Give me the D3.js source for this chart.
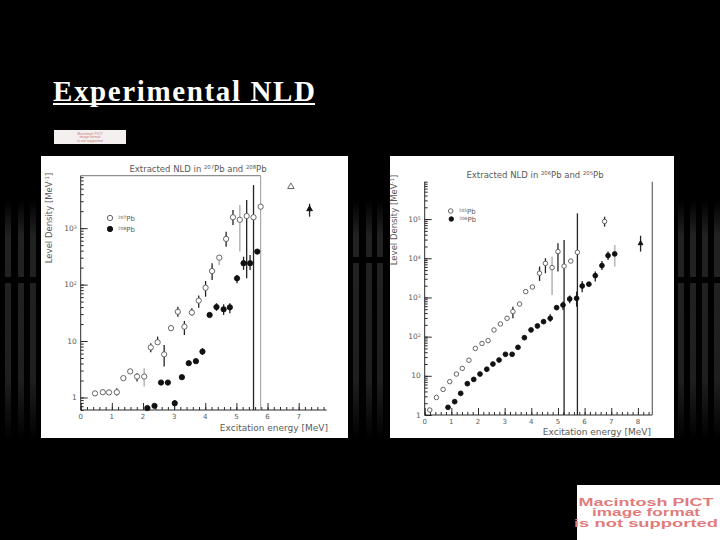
<!DOCTYPE html>
<html>
<head>
<meta charset="utf-8">
<script src="https://cdn.jsdelivr.net/npm/d3@7"></script>
<style>
  body { margin: 0; background: #000; }
  svg { display: block; }
</style>
</head>
<body>
<svg id="slide" width="720" height="540"></svg>
<script>
// ---- left panel: 207Pb (open) and 208Pb (filled) ----
const e207   = [0.46,0.71,0.91,1.16,1.37,1.59,1.81,2.04,2.25,2.47,2.68,2.90,3.12,3.33,3.57,3.79,4.01,4.22,4.45,4.67,4.89,5.11,5.33,5.55,5.78];
const nld207 = [1.18,1.24,1.23,1.24,2.2,2.9,2.35,2.35,7.7,9.5,5.8,16.9,33,18,32,52,88,174,300,645,1560,1410,1640,1560,2400];
const lo207  = [null,null,null,1.085,null,null,1.92,1.57,6.35,8.55,3.54,null,27,12.8,28.3,39,61,121,222,470,1143,384,129,0.6,null];
const hi207  = [null,null,null,1.46,null,null,2.70,3.3,9.15,12.0,8.55,null,40.6,22.7,38,63.8,116,238,335,862,2094,2570,3150,5800,null];
const grey207 = [2.04,4.45,5.11];

const e208   = [2.14,2.37,2.58,2.80,3.02,3.25,3.47,3.70,3.91,4.14,4.36,4.59,4.79,5.02,5.23,5.44,5.67];
const nld208 = [0.65,0.71,1.84,1.84,0.79,2.29,4.05,4.4,6.5,29,40,36.5,39.6,129,239,239,384];
const lo208  = [null,null,null,null,0.70,null,null,4.1,5.69,null,34.2,29,31,106,182,182,null];
const hi208  = [null,null,null,null,0.90,null,null,4.8,7.5,null,46.8,44.8,46.8,148,312,335,null];

const eTriOpenL = [6.75],  nldTriOpenL = [5430];
const eTriFillL = [7.35],  nldTriFillL = [2180], loTriFillL = [1600], hiTriFillL = [2700];
const markerLineL = 5.78;

const xTicksL = [0,1,2,3,4,5,6,7];
const yTicksL = [1,10,100,1000];

// ---- right panel: 205Pb (open) and 206Pb (filled) ----
const e205   = [0.19,0.44,0.69,0.94,1.19,1.41,1.66,1.90,2.15,2.38,2.60,2.84,3.09,3.31,3.56,3.79,4.04,4.31,4.53,4.78,5.00,5.23,5.48,5.73,6.75];
const nld205 = [1.34,2.8,4.5,7.1,11.1,15.5,25,50,67,79,148,211,294,435,680,1410,1850,4150,7400,5760,14800,6300,8500,14200,87000];
const lo205  = [null,null,null,null,null,null,null,null,null,null,null,null,null,295,null,null,null,2640,4160,1160,4580,1,null,1,64000];
const hi205  = [null,null,null,null,null,null,null,null,null,null,null,null,null,583,null,null,null,6140,10000,10900,24000,29400,null,140000,115000];
const grey205 = [4.78];

const e206   = [0.875,1.125,1.35,1.6,1.84,2.075,2.33,2.56,2.79,3.03,3.28,3.5,3.74,3.99,4.23,4.46,4.71,4.95,5.19,5.44,5.7,5.91,6.16,6.4,6.65,6.88,7.13];
const nld206 = [1.57,2.19,3.57,6.3,8.1,11.1,14.7,20,25.3,35.4,35.4,53.4,94,148,187,241,294,550,640,913,950,1960,2180,3600,6500,11700,12900];
const lo206  = [null,null,null,null,null,null,null,null,null,null,null,null,null,null,null,null,241,null,480,708,583,1360,null,2540,5050,9000,6140];
const hi206  = [null,null,null,null,null,null,null,null,null,null,null,null,null,null,null,null,371,null,787,1120,1410,2640,null,4580,8490,14800,21800];
const grey206 = [7.13];

const eTriFillR = [8.1], nldTriFillR = [24000], loTriFillR = [14800], hiTriFillR = [37600];

const xTicksR = [0,1,2,3,4,5,6,7,8];
const yTicksR = [1,10,100,1000,10000,100000];

const svg = d3.select("#slide");

// ---- background stripes ----
const grad = svg.append("defs").append("linearGradient")
    .attr("id", "stripe").attr("x1", 0).attr("x2", 0).attr("y1", 0).attr("y2", 1);
grad.append("stop").attr("offset", "0%").attr("stop-color", "#222").attr("stop-opacity", 0);
grad.append("stop").attr("offset", "15%").attr("stop-color", "#222").attr("stop-opacity", 1);
grad.append("stop").attr("offset", "75%").attr("stop-color", "#222").attr("stop-opacity", 0.9);
grad.append("stop").attr("offset", "100%").attr("stop-color", "#222").attr("stop-opacity", 0);

function stripes(xs, gapY) {
    const g = svg.append("g");
    xs.forEach(x => g.append("rect").attr("x", x).attr("y", 200).attr("width", 6).attr("height", 240).attr("fill", "url(#stripe)"));
    g.append("rect").attr("x", xs[0] - 2).attr("y", gapY).attr("width", xs[xs.length - 1] - xs[0] + 10).attr("height", 6).attr("fill", "#000");
}
stripes([5, 18, 30], 277);
stripes([353, 366, 377], 257);
stripes([678, 690, 702, 714], 277);

// ---- slide title ----
svg.append("text")
    .attr("x", 53).attr("y", 101)
    .attr("font-family", "'Liberation Serif', serif")
    .attr("font-weight", "bold")
    .attr("font-size", 29)
    .attr("fill", "#fff")
    .attr("textLength", 262)
    .text("Experimental NLD");
svg.append("rect").attr("x", 53).attr("y", 103).attr("width", 262).attr("height", 2).attr("fill", "#fff");

// small unsupported-image placeholder
svg.append("rect").attr("x", 54).attr("y", 130).attr("width", 72).attr("height", 14).attr("fill", "#f4f0f0");
["Macintosh PICT", "image format", "is not supported"].forEach((t, i) => {
    svg.append("text").attr("x", 90).attr("y", 134.5 + i * 3.8)
        .attr("text-anchor", "middle").attr("font-size", 3.6)
        .attr("font-family", "'Liberation Sans', sans-serif")
        .attr("fill", "#c87878").text(t);
});

// big placeholder bottom right
svg.append("rect").attr("x", 577).attr("y", 485).attr("width", 143).attr("height", 55).attr("fill", "#fff");
[["Macintosh PICT", 135], ["image format", 108], ["is not supported", 144]].forEach(([t, w], i) => {
    svg.append("text").attr("x", 646).attr("y", 505.5 + i * 10.5)
        .attr("text-anchor", "middle").attr("font-size", 10.5).attr("font-weight", "bold")
        .attr("font-family", "'Liberation Sans', Arial, sans-serif")
        .attr("textLength", w).attr("lengthAdjust", "spacingAndGlyphs")
        .attr("fill", "#e07c7c").text(t);
});

// ---- helpers ----
function richText(sel, str) {
    // "^{...}" marks a superscript part
    const parts = str.split(/(\^\{[^}]*\})/).filter(s => s.length);
    parts.forEach(p => {
        if (p.startsWith("^{")) {
            sel.append("tspan").attr("baseline-shift", "super").attr("font-size", "0.62em").text(p.slice(2, -1));
        } else {
            sel.append("tspan").text(p);
        }
    });
}

function tickLabel(v) {
    if (v === 1) return "1";
    if (v === 10) return "10";
    return "10^{" + Math.round(Math.log10(v)) + "}";
}

function minorLog(domain) {
    const out = [];
    for (let k = Math.floor(Math.log10(domain[0])); k <= Math.ceil(Math.log10(domain[1])); k++) {
        for (let m = 1; m < 10; m++) {
            const v = m * Math.pow(10, k);
            if (v >= domain[0] && v <= domain[1]) out.push(v);
        }
    }
    return out;
}

const ink = "#2a2a2a", txt = "#5a5a5a";

function drawPanel(cfg) {
    const { x, y } = cfg;
    const g = svg.append("g");
    g.append("rect").attr("x", cfg.box[0]).attr("y", cfg.box[1])
        .attr("width", cfg.box[2]).attr("height", cfg.box[3]).attr("fill", "#fff");

    const [x0, x1] = x.range();
    const [y0, y1] = y.range();

    // y axis with minor ticks (inside)
    g.append("g").attr("transform", `translate(${x0},0)`)
        .call(d3.axisRight(y).tickValues(minorLog(y.domain())).tickSize(3).tickFormat(""))
        .call(a => a.select(".domain").remove())
        .selectAll("line").attr("stroke", ink);
    const yMaj = g.append("g").attr("transform", `translate(${x0},0)`)
        .call(d3.axisRight(y).tickValues(cfg.yTicks).tickSize(7).tickFormat(""));
    yMaj.select(".domain").remove();
    yMaj.selectAll("line").attr("stroke", ink);
    cfg.yTicks.forEach(v => {
        const t = g.append("text").attr("x", x0 - 4).attr("y", y(v) + 2.5)
            .attr("text-anchor", "end").attr("font-size", 7.5)
            .attr("font-family", "'DejaVu Sans', sans-serif").attr("fill", txt);
        richText(t, tickLabel(v));
    });

    // x axis, ticks inside (upwards)
    const minorX = d3.range(0, x.domain()[1] + 1e-6, 0.2);
    g.append("g").attr("transform", `translate(0,${y0})`)
        .call(d3.axisTop(x).tickValues(minorX).tickSize(3).tickFormat(""))
        .call(a => a.select(".domain").remove())
        .selectAll("line").attr("stroke", ink);
    const xAx = g.append("g").attr("transform", `translate(0,${y0})`)
        .call(d3.axisTop(x).tickValues(cfg.xTicks).tickSize(7).tickFormat(""));
    xAx.select(".domain").remove();
    xAx.selectAll("line").attr("stroke", ink);
    g.selectAll(".xlab").data(cfg.xTicks).enter().append("text")
        .attr("x", d => x(d)).attr("y", y0 + 9)
        .attr("text-anchor", "middle").attr("font-size", 7)
        .attr("font-family", "'DejaVu Sans', sans-serif").attr("fill", txt)
        .text(d => d);

    // frame lines
    g.append("line").attr("x1", x0).attr("x2", x0).attr("y1", y0).attr("y2", y1).attr("stroke", ink);
    g.append("line").attr("x1", x0).attr("x2", x1).attr("y1", y0).attr("y2", y0).attr("stroke", ink);
    cfg.extraLines(g);

    // error bars
    const bars = [];
    cfg.series.forEach(s => s.e.forEach((e, i) => {
        if (s.lo && s.lo[i] != null) bars.push({ e, lo: s.lo[i], hi: s.hi[i], grey: (s.grey || []).includes(e) });
    }));
    g.selectAll(".bar").data(bars).enter().append("line")
        .attr("x1", d => x(d.e)).attr("x2", d => x(d.e))
        .attr("y1", d => y(Math.max(d.lo, y.domain()[0]))).attr("y2", d => y(Math.min(d.hi, y.domain()[1])))
        .attr("stroke", d => d.grey ? "#b8b8b8" : "#222")
        .attr("stroke-width", d => d.grey ? 1.6 : 1.3);

    // markers
    cfg.series.forEach(s => {
        const sym = d3.symbol().type(s.tri ? d3.symbolTriangle : d3.symbolCircle).size(s.size);
        g.selectAll(null).data(s.e.map((e, i) => ({ e, v: s.v[i] }))).enter().append("path")
            .attr("transform", d => `translate(${x(d.e)},${y(d.v)})`)
            .attr("d", sym)
            .attr("fill", s.open ? "#fff" : "#111")
            .attr("stroke", s.open ? "#555" : "#111")
            .attr("stroke-width", 0.9);
    });

    // legend
    cfg.legend.forEach(l => {
        g.append("path").attr("transform", `translate(${l.x},${l.y})`)
            .attr("d", d3.symbol().type(d3.symbolCircle).size(cfg.series[0].size)())
            .attr("fill", l.open ? "#fff" : "#111").attr("stroke", l.open ? "#555" : "#111").attr("stroke-width", 0.9);
        const t = g.append("text").attr("x", l.x + 8).attr("y", l.y + 2.5)
            .attr("font-size", 7).attr("font-family", "'DejaVu Sans', sans-serif").attr("fill", txt);
        richText(t, l.label);
    });

    // titles
    const tt = g.append("text").attr("x", cfg.title[0]).attr("y", cfg.title[1])
        .attr("text-anchor", "middle").attr("font-size", 8.5)
        .attr("font-family", "'DejaVu Sans', sans-serif").attr("fill", txt);
    richText(tt, cfg.title[2]);

    g.append("text").attr("x", cfg.xlabel[0]).attr("y", cfg.xlabel[1])
        .attr("text-anchor", "end").attr("font-size", 9)
        .attr("font-family", "'DejaVu Sans', sans-serif").attr("fill", txt)
        .text("Excitation energy [MeV]");

    const yl = g.append("text")
        .attr("transform", `translate(${cfg.ylabel[0]},${cfg.ylabel[1]}) rotate(-90)`)
        .attr("text-anchor", "middle").attr("font-size", 8.5)
        .attr("font-family", "'DejaVu Sans', sans-serif").attr("fill", txt);
    richText(yl, "Level Density [MeV^{-1}]");
}

// ---- left panel ----
const xL = d3.scaleLinear().domain([0, 7.9]).range([80.7, 326.7]);
const yL = d3.scaleLog().domain([0.6, 8500]).range([410, 175.7]);
drawPanel({
    x: xL, y: yL, box: [41, 156, 307, 282],
    xTicks: xTicksL, yTicks: yTicksL,
    series: [
        { e: e207, v: nld207, lo: lo207, hi: hi207, grey: grey207, open: true, size: 22 },
        { e: e208, v: nld208, lo: lo208, hi: hi208, open: false, size: 22 },
        { e: eTriOpenL, v: nldTriOpenL, open: true, tri: true, size: 18 },
        { e: eTriFillL, v: nldTriFillL, lo: loTriFillL, hi: hiTriFillL, open: false, tri: true, size: 14 }
    ],
    extraLines: g => {
        g.append("line").attr("x1", xL(0)).attr("x2", xL(markerLineL)).attr("y1", 175.7).attr("y2", 175.7).attr("stroke", "#777");
        g.append("line").attr("x1", xL(markerLineL)).attr("x2", xL(markerLineL)).attr("y1", 175.7).attr("y2", 410).attr("stroke", "#999");
    },
    legend: [
        { x: 110, y: 218, open: true, label: "^{207}Pb" },
        { x: 110, y: 229, open: false, label: "^{208}Pb" }
    ],
    title: [198, 172, "Extracted NLD in ^{207}Pb and ^{208}Pb"],
    xlabel: [328, 431],
    ylabel: [52, 218]
});

// ---- right panel ----
const xR = d3.scaleLinear().domain([0, 8.54]).range([424.7, 652.3]);
const yR = d3.scaleLog().domain([1, 9e5]).range([415, 181.7]);
drawPanel({
    x: xR, y: yR, box: [390, 156, 284, 282],
    xTicks: xTicksR, yTicks: yTicksR,
    series: [
        { e: e205, v: nld205, lo: lo205, hi: hi205, grey: grey205, open: true, size: 16 },
        { e: e206, v: nld206, lo: lo206, hi: hi206, grey: grey206, open: false, size: 18 },
        { e: eTriFillR, v: nldTriFillR, lo: loTriFillR, hi: hiTriFillR, open: false, tri: true, size: 10 }
    ],
    extraLines: g => {
        g.append("line").attr("x1", xR(8.54)).attr("x2", xR(8.54)).attr("y1", 181.7).attr("y2", 415).attr("stroke", "#666").attr("stroke-width", 1.2);
    },
    legend: [
        { x: 450.7, y: 211, open: true, label: "^{205}Pb" },
        { x: 451.3, y: 219, open: false, label: "^{206}Pb" }
    ],
    title: [535, 178, "Extracted NLD in ^{206}Pb and ^{205}Pb"],
    xlabel: [651, 435],
    ylabel: [397, 220]
});
</script>
</body>
</html>
